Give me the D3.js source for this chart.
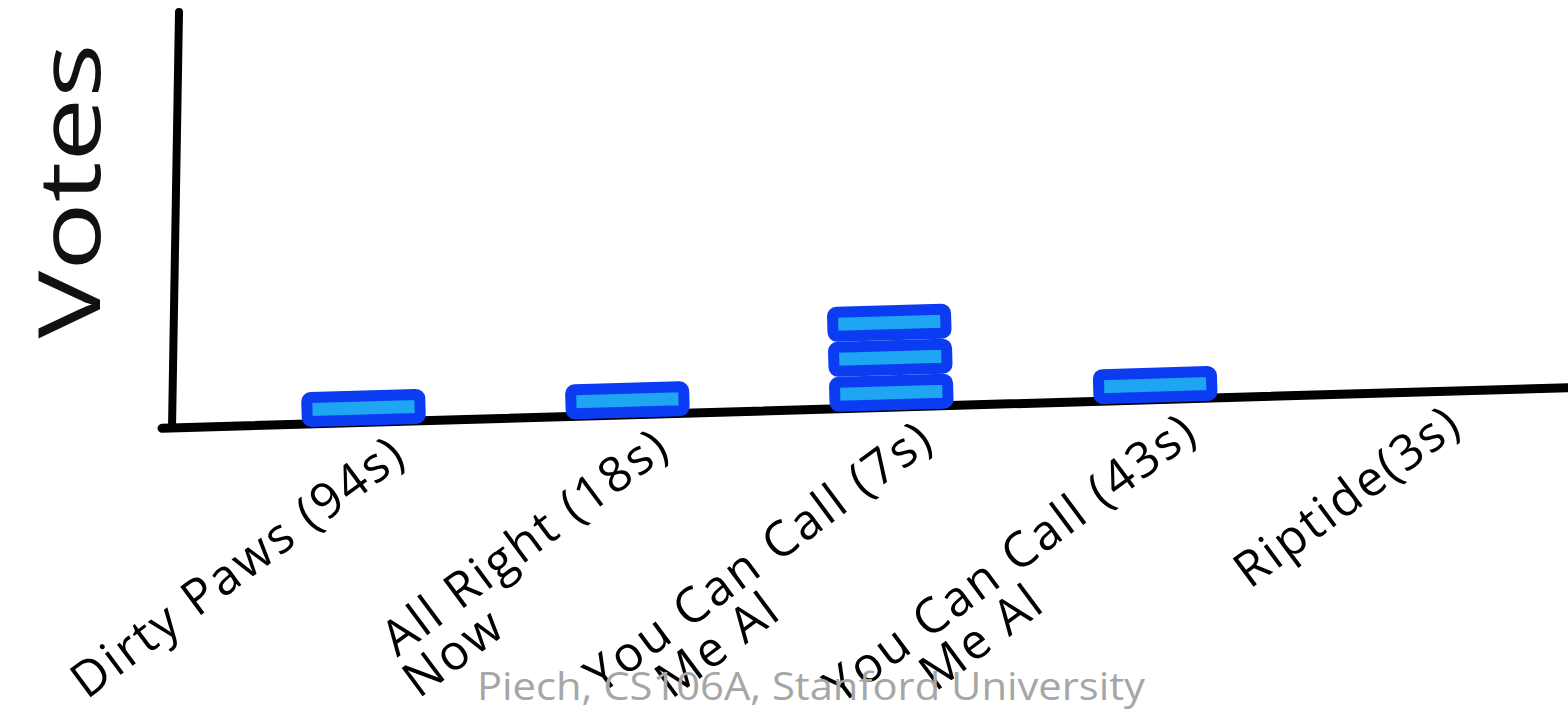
<!DOCTYPE html>
<html>
<head>
<meta charset="utf-8">
<script src="https://cdn.jsdelivr.net/npm/d3@7"></script>
<style>
  html, body { margin: 0; padding: 0; background: #fff; }
  svg { display: block; }
</style>
</head>
<body>
<script>
// ---- data ----
const categories = ["Dirty Paws (94s)", "All Right (18s)", "You Can Call (7s)", "You Can Call (43s)", "Riptide(3s)"];
const secondLines = ["", "Now", "Me Al", "Me Al", ""];
const votes = [1, 1, 3, 1, 0];
const yTitle = "Votes";
const footer = "Piech, CS106A, Stanford University";

const W = 1568, H = 723;
const svg = d3.select("body").append("svg").attr("width", W).attr("height", H);

const x = d3.scaleBand().domain(categories).range([232, 1552]).paddingInner(0.53).paddingOuter(0.265);
const y = d3.scaleLinear().domain([0, 12]).range([431, 11]);

const blue = "#0b3cf2", cyan = "#1ea6f2";

// y axis (hand-drawn look, slightly leaning)
svg.append("line")
  .attr("x1", 172).attr("y1", 428)
  .attr("x2", 179).attr("y2", 12)
  .attr("stroke", "#000").attr("stroke-width", 8).attr("stroke-linecap", "round");

// y title
svg.append("text")
  .attr("transform", `translate(100,${(y(0) + y(12)) / 2 - 30}) rotate(-90)`)
  .attr("text-anchor", "middle")
  .attr("font-family", "'Open Sans', sans-serif")
  .attr("font-size", 86)
  .attr("textLength", 295).attr("lengthAdjust", "spacingAndGlyphs")
  .attr("fill", "#111")
  .text(yTitle);

// slanted group for x axis + bars + labels
const g = svg.append("g").attr("transform", `rotate(-1.65, 170, 428)`);

g.append("line")
  .attr("x1", 162).attr("y1", 428)
  .attr("x2", 1620).attr("y2", 428)
  .attr("stroke", "#000").attr("stroke-width", 9).attr("stroke-linecap", "round");

// stacked vote blocks
const blocks = [];
categories.forEach((c, i) => {
  for (let k = 0; k < votes[i]; k++) blocks.push({ c, k });
});
const sw = 11;
g.selectAll("rect.block").data(blocks).join("rect")
  .attr("class", "block")
  .attr("x", d => x(d.c) + sw / 2)
  .attr("y", d => y(d.k + 1) + sw / 2)
  .attr("width", x.bandwidth() - sw)
  .attr("height", d => y(d.k) - y(d.k + 1) - sw)
  .attr("rx", 4)
  .attr("fill", cyan)
  .attr("stroke", blue)
  .attr("stroke-width", sw)
  .attr("stroke-linejoin", "round");

// category labels
const angle = -35;
const lab = g.selectAll("g.lab").data(categories).join("g")
  .attr("class", "lab")
  .attr("transform", c => `translate(${x(c) + x.bandwidth() / 2 + 44},${y(0) + 36}) rotate(${angle})`);
lab.append("text")
  .attr("text-anchor", "end")
  .attr("font-family", "'Open Sans', sans-serif")
  .attr("font-size", 49)
  .attr("letter-spacing", 2.5)
  .attr("fill", "#000")
  .text(d => d);
lab.append("text")
  .attr("x", -295).attr("y", 46)
  .attr("text-anchor", "middle")
  .attr("font-family", "'Open Sans', sans-serif")
  .attr("font-size", 49)
  .attr("letter-spacing", 2.5)
  .attr("fill", "#000")
  .text((d, i) => secondLines[i]);

// footer
svg.append("text")
  .attr("x", 811).attr("y", 700)
  .attr("text-anchor", "middle")
  .attr("font-family", "'Open Sans', sans-serif")
  .attr("font-size", 38)
  .attr("textLength", 668).attr("lengthAdjust", "spacingAndGlyphs")
  .attr("fill", "#a6a6a6")
  .text(footer);
</script>
</body>
</html>
